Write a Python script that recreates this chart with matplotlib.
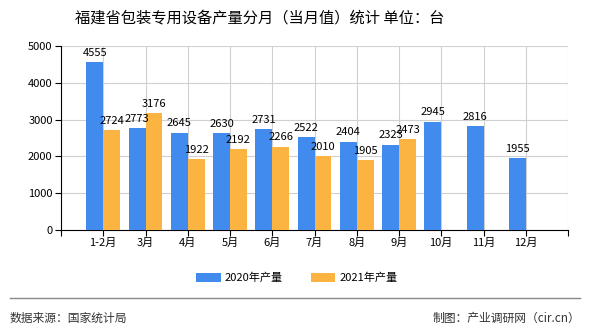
import matplotlib
matplotlib.use('Agg')
import matplotlib.pyplot as plt
import numpy as np

plt.rcParams['font.family'] = ['Noto Sans CJK SC', 'DejaVu Sans']

months = ['1-2月', '3月', '4月', '5月', '6月', '7月', '8月', '9月', '10月', '11月', '12月']
output_2020 = [4555, 2773, 2645, 2630, 2731, 2522, 2404, 2323, 2945, 2816, 1955]
output_2021 = [2724, 3176, 1922, 2192, 2266, 2010, 1905, 2473]

blue = '#418bef'
orange = '#fbb441'

fig = plt.figure(figsize=(5.9, 3.3), dpi=100)
ax = fig.add_axes([61 / 590, 1 - 230 / 330, 507 / 590, 184 / 330])

x = np.arange(1, len(months) + 1)
x21 = np.arange(1, len(output_2021) + 1)
w = 0.4
b1 = ax.bar(x - w / 2, output_2020, w, color=blue, label='2020年产量', zorder=3)
b2 = ax.bar(x21 + w / 2, output_2021, w, color=orange, label='2021年产量', zorder=3)

# 数值标签
for bars, vals in ((b1, output_2020), (b2, output_2021)):
    for r, v in zip(bars, vals):
        ax.annotate(str(v), (r.get_x() + r.get_width() / 2, v), xytext=(0, 3),
                    textcoords='offset points', ha='center', va='bottom', fontsize=8, zorder=4)

ax.set_xlim(0, 12)
ax.set_ylim(0, 5000)
ax.set_yticks(range(0, 5001, 1000))
ax.set_xticks(range(0, 13))
ax.set_xticklabels([''] + months + [''])
ax.grid(True, color='#d0d0d0', linewidth=0.8, zorder=0)
ax.tick_params(axis='both', labelsize=8, length=4, direction='out', pad=2)
for s in ('top', 'right'):
    ax.spines[s].set_visible(False)
for s in ('left', 'bottom'):
    ax.spines[s].set_color('black')

fig.text(260 / 590, 1 - 18 / 330, '福建省包装专用设备产量分月（当月值）统计 单位：台',
         ha='center', va='center', fontsize=11)

fig.legend(handles=[b1, b2], loc='center', bbox_to_anchor=(297 / 590, 1 - 278 / 330),
           ncol=2, frameon=False, fontsize=8, handlelength=2.2, handleheight=0.8,
           columnspacing=2.5, handletextpad=0.4)

fig.add_artist(plt.Line2D([10 / 590, 580 / 590], [1 - 298 / 330, 1 - 298 / 330],
                          color='#888888', linewidth=1))
fig.text(10 / 590, 1 - 318 / 330, '数据来源：国家统计局', ha='left', va='center',
         fontsize=8.5, color='#333333')
fig.text(580 / 590, 1 - 318 / 330, '制图：产业调研网（cir.cn）', ha='right', va='center',
         fontsize=8.5, color='#333333')

fig.savefig('out.png', dpi=100)
